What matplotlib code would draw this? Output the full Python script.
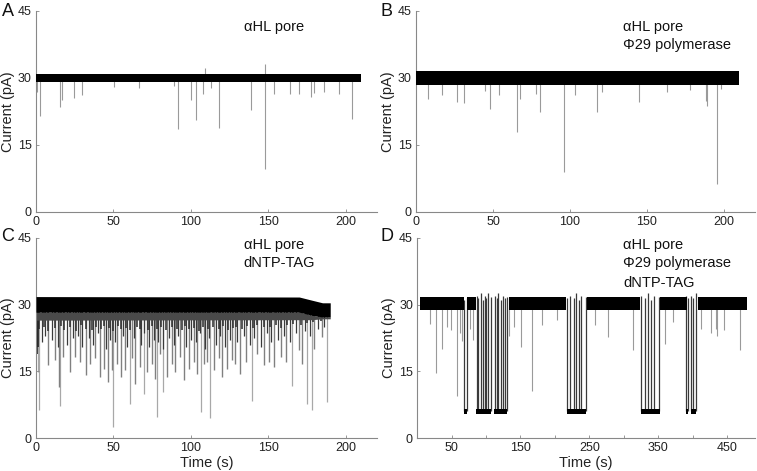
#!usr/bin/env python
'''
nanopore current traces, four conditions (A-D)
'''

import matplotlib.pyplot as plt

plt.rcParams['font.family'] = ['Liberation Sans', 'DejaVu Sans']

# --- panel A: alpha-HL pore only ---
a_band_t = [0, 210]
a_band_lo = [29.0, 29.0]
a_band_hi = [30.9, 30.9]
a_spike_t = [0.9, 2.8, 15.6, 16.5, 24.7, 29.7, 50.3, 66.6, 89.4, 92.0, 100.2, 103.3,
             108.0, 113.0, 118.2, 138.8, 148.0, 154.0, 164.2, 169.6, 177.9, 179.8,
             185.9, 195.7, 203.9]
a_spike_min = [26.9, 21.4, 23.5, 25.0, 25.4, 26.2, 28.0, 27.7, 28.2, 18.5, 25.0, 20.6,
               26.5, 27.7, 18.7, 22.8, 9.7, 26.5, 26.3, 26.5, 25.8, 26.7,
               26.9, 26.5, 20.9]
a_up_t = [109.0, 148.0]
a_up_max = [32.1, 33.1]

# --- panel B: pore + phi29 polymerase ---
b_band_t = [0, 209.7]
b_band_lo = [28.5, 28.5]
b_band_hi = [31.5, 31.5]
b_spike_t = [8.0, 17.0, 26.5, 31.0, 44.7, 47.9, 53.9, 65.8, 67.3, 78.1, 80.7, 96.4,
             103.3, 117.6, 120.6, 145.0, 163.3, 177.8, 188.1, 189.2, 195.7, 197.8]
b_spike_min = [25.3, 26.2, 24.6, 24.3, 27.0, 23.1, 26.1, 18.0, 25.3, 26.4, 22.3, 9.0,
               26.2, 22.3, 26.8, 24.6, 26.8, 27.2, 24.9, 23.8, 6.2, 27.6]

# --- panel C: pore + dNTP-TAG ---
c_band_t = [0, 170, 178, 185, 190]
c_band_lo = [28.3, 28.3, 27.6, 27.2, 27.2]
c_band_hi = [31.8, 31.7, 31.0, 30.4, 30.4]
c_fringe_lo = [26.5, 26.6, 26.6, 26.8, 26.8]
c_deep_t = [2.0, 1.5, 15.5, 50.0, 60.4, 69.5, 78.1, 82.0, 106.8, 112.2, 139.6, 165.0,
            175.2, 178.0, 188.1]
c_deep_min = [6.2, 14.8, 7.3, 2.4, 7.7, 10.0, 4.7, 10.3, 5.8, 4.5, 8.4, 11.6,
              7.7, 6.2, 8.1]
c_mid_t = [8.0, 12.3, 15.1, 17.7, 22.0, 25.2, 28.5, 32.4, 35.0, 38.2, 41.4, 43.6, 46.2,
           49.0, 52.2, 54.8, 57.6, 61.9, 64.1, 66.9, 71.6, 74.9, 77.0, 80.3, 84.6,
           87.8, 90.0, 93.2, 95.4, 98.6, 101.8, 104.0, 108.3, 110.5, 114.8, 118.0,
           120.2, 123.4, 126.6, 128.8, 132.0, 135.3, 142.8, 147.1, 150.4, 153.6,
           157.9, 161.2, 169.8, 172.0, 179.5, 184.9]
c_mid_min = [16.4, 17.5, 11.5, 18.2, 14.8, 18.2, 17.1, 14.1, 16.7, 17.9, 13.7, 15.6, 12.6,
             15.2, 16.7, 13.7, 15.2, 17.9, 12.2, 16.0, 14.8, 16.7, 13.3, 19.0, 13.7,
             16.7, 14.8, 18.2, 13.0, 15.6, 17.1, 14.5, 16.7, 17.1, 15.2, 17.9,
             13.7, 15.6, 17.5, 16.7, 14.5, 17.1, 19.0, 16.4, 17.1, 16.0,
             18.2, 17.1, 19.7, 16.7, 20.1, 22.8]
c_start_t = [0.3, 0.8, 1.2]
c_start_min = [19.5, 19.0, 20.5]
c_shallow_t = [4, 6, 10, 14, 20, 24, 27, 30, 34, 37, 40, 45, 48, 51, 56, 59, 63, 68, 70,
               73, 76, 79, 82, 86, 89, 92, 97, 100, 103, 106, 109, 112, 116, 119, 122,
               125, 130, 134, 138, 141, 145, 149, 152, 156, 160, 164, 168, 174, 177,
               182, 186]
c_shallow_min = [21.5, 23.0, 22.0, 20.5, 21.0, 22.5, 23.0, 20.5, 22.5, 21.0, 23.5, 20.0,
                 22.0, 21.5, 23.0, 20.5, 22.5, 21.0, 23.5, 20.5, 22.0, 21.5, 20.0,
                 22.5, 21.0, 23.0, 20.5, 22.0, 21.5, 23.5, 20.0, 22.5, 21.0, 23.0,
                 20.5, 22.0, 21.5, 23.0, 21.0, 22.5, 20.5, 23.5, 21.5, 22.0, 23.0,
                 21.5, 23.5, 24.0, 23.0, 24.5, 25.0]
c_comb_t = [2, 5, 8, 12, 16, 18, 22, 26, 29, 32, 36, 39, 42, 44, 47, 50, 53, 55, 58, 61,
            65, 67, 72, 75, 78, 81, 84, 88, 91, 94, 96, 99, 102, 105, 108, 111, 114, 118,
            121, 124, 127, 129, 133, 136, 140, 143, 147, 151, 155, 158, 162, 166, 171,
            175, 179, 184]
c_comb_min = [24.5, 25.0, 24.0, 24.8, 25.2, 24.3, 24.9, 24.1, 25.3, 24.6, 24.2, 25.0,
              24.4, 25.1, 24.7, 24.0, 25.2, 24.5, 24.8, 24.2, 25.0, 24.6, 24.3, 25.1,
              24.4, 24.9, 24.2, 25.0, 24.6, 24.3, 25.2, 24.5, 24.8, 24.1, 25.0, 24.4,
              24.9, 24.6, 25.2, 24.3, 24.8, 25.0, 24.5, 25.1, 24.7, 25.3, 24.9, 25.0,
              25.4, 24.8, 25.3, 25.6, 25.5, 25.8, 26.0, 26.2]

# --- panel D: pore + polymerase + dNTP-TAG ---
d_open_start = [3.5, 73.0, 132.9, 246.4, 352.6, 407.8]
d_open_end = [67.7, 86.0, 216.2, 324.0, 391.4, 478.7]
d_open_lo = 28.8
d_open_hi = 31.7
d_block_start = [68.2, 86.0, 112.3, 217.7, 325.4, 390.5, 397.5]
d_block_end = [72.5, 107.5, 130.5, 245.0, 351.8, 393.0, 405.0]
d_block_lo = 5.4
d_block_hi = 6.6
d_trans_t = [68.0, 72.8, 86.2, 89.0, 93.0, 95.5, 98.0, 100.5, 103.5, 107.3, 112.5, 115.5,
             118.0, 121.5, 124.5, 127.5, 130.3, 218.0, 222.5, 227.0, 231.0, 234.5,
             238.0, 244.8, 325.6, 330.5, 335.0, 339.5, 344.0, 351.6, 390.8, 392.8,
             397.6, 401.0, 404.8]
d_trans_max = [31.0, 31.5, 32.0, 31.5, 32.5, 31.0, 32.0, 31.5, 32.5, 31.8, 32.0, 31.5,
               32.5, 31.0, 32.0, 31.5, 31.8, 31.5, 32.0, 31.5, 32.5, 31.0, 32.0,
               31.8, 32.0, 31.5, 32.5, 31.0, 32.0, 31.8, 32.0, 31.5, 32.0, 31.5,
               32.5]
d_spike_t = [18.9, 27.5, 35.6, 42.8, 49.0, 57.2, 62.0, 65.8, 77.3, 81.1, 133.8, 141.0,
             150.6, 166.4, 180.8, 203.3, 258.4, 276.6, 313.5, 360.4, 371.0, 411.7,
             426.0, 433.2, 435.6, 445.2, 469.2]
d_spike_min = [25.7, 14.7, 20.0, 25.0, 24.2, 9.5, 23.5, 21.9, 24.5, 22.0, 23.0, 25.0,
               20.4, 10.6, 25.5, 26.5, 25.5, 22.7, 19.7, 21.2, 26.0, 24.5,
               23.5, 24.5, 23.0, 24.2, 19.7]

ylims = (0, 45)
yticks = [0, 15, 30, 45]
spike_grey = '#9a9a9a'


def style_axis(ax, xlim):
    ax.set_xlim(*xlim)
    ax.set_ylim(*ylims)
    ax.set_yticks(yticks)
    for side in ['top', 'right']:
        ax.spines[side].set_visible(False)
    for side in ['left', 'bottom']:
        ax.spines[side].set_color('#888888')
        ax.spines[side].set_linewidth(0.8)
    ax.tick_params(direction='in', length=2.5, width=0.6, color='#888888',
                   labelsize=9, labelcolor='#222222', pad=3, which='both')
    ax.set_ylabel('Current (pA)', fontsize=10.5, color='#222222', labelpad=2)


def add_label(ax, lines, ys):
    for txt, y in zip(lines, ys):
        ax.text(0.61, y, txt, transform=ax.transAxes, fontsize=10.5,
                color='#111111', va='center', ha='left')


fig = plt.figure(figsize=(7.57, 4.71), dpi=100)
ax_a = fig.add_axes([0.0476, 0.550, 0.450, 0.427])
ax_b = fig.add_axes([0.5495, 0.550, 0.4475, 0.427])
ax_c = fig.add_axes([0.0476, 0.070, 0.450, 0.425])
ax_d = fig.add_axes([0.5510, 0.070, 0.4460, 0.425])

# A
ax_a.vlines(a_spike_t, a_spike_min, 29.5, color=spike_grey, lw=0.8, zorder=2)
ax_a.vlines(a_up_t, 30, a_up_max, color=spike_grey, lw=0.8, zorder=2)
ax_a.fill_between(a_band_t, a_band_lo, a_band_hi, color='black', lw=0, zorder=3)
style_axis(ax_a, (0, 220))
ax_a.set_xticks([0, 50, 100, 150, 200])
add_label(ax_a, ['αHL pore'], [0.92])

# B
ax_b.vlines(b_spike_t, b_spike_min, 29.5, color=spike_grey, lw=0.8, zorder=2)
ax_b.fill_between(b_band_t, b_band_lo, b_band_hi, color='black', lw=0, zorder=3)
style_axis(ax_b, (0, 220))
ax_b.set_xticks([0, 50, 100, 150, 200])
add_label(ax_b, ['αHL pore', 'Φ29 polymerase'], [0.92, 0.83])

# C
ax_c.vlines(c_deep_t, c_deep_min, 29.5, color='#a8a8a8', lw=0.9, zorder=1)
ax_c.vlines(c_mid_t, c_mid_min, 29.5, color='#808080', lw=1.0, zorder=1)
ax_c.vlines(c_shallow_t, c_shallow_min, 29.5, color='#3a3a3a', lw=0.9, zorder=2)
ax_c.vlines(c_comb_t, c_comb_min, 29.5, color='#2a2a2a', lw=1.1, zorder=2)
ax_c.vlines(c_start_t, c_start_min, 29.5, color='#222222', lw=1.2, zorder=2)
ax_c.fill_between(c_band_t, c_fringe_lo, c_band_lo, color='#4a4a4a', lw=0, zorder=2)
ax_c.fill_between(c_band_t, c_band_lo, c_band_hi, color='black', lw=0, zorder=3)
style_axis(ax_c, (0, 220))
ax_c.set_xticks([0, 50, 100, 150, 200])
ax_c.set_xlabel('Time (s)', fontsize=10.5, color='#222222', labelpad=1)
add_label(ax_c, ['αHL pore', 'dNTP-TAG'], [0.965, 0.875])

# D
ax_d.vlines(d_spike_t, d_spike_min, 29.5, color=spike_grey, lw=0.8, zorder=1)
ax_d.vlines(d_trans_t, 6.0, d_trans_max, color='#3a3a3a', lw=0.9, zorder=2)
for t0, t1 in zip(d_open_start, d_open_end):
    ax_d.fill_between([t0, t1], d_open_lo, d_open_hi, color='black', lw=0, zorder=3)
for t0, t1 in zip(d_block_start, d_block_end):
    ax_d.fill_between([t0, t1], d_block_lo, d_block_hi, color='black', lw=0, zorder=3)
style_axis(ax_d, (0, 490))
ax_d.set_xticks([50, 150, 250, 350, 450])
ax_d.set_xticks([100, 200, 300, 400], minor=True)
ax_d.tick_params(which='minor', length=2.5)
ax_d.set_xlabel('Time (s)', fontsize=10.5, color='#222222', labelpad=1)
add_label(ax_d, ['αHL pore', 'Φ29 polymerase', 'dNTP-TAG'], [0.965, 0.875, 0.775])

# panel letters
for x, y, s in [(0.002, 0.975, 'A'), (0.502, 0.975, 'B'),
                (0.002, 0.497, 'C'), (0.502, 0.497, 'D')]:
    fig.text(x, y, s, fontsize=13, color='#111111', va='center', ha='left')

fig.savefig('out.png', dpi=100)
